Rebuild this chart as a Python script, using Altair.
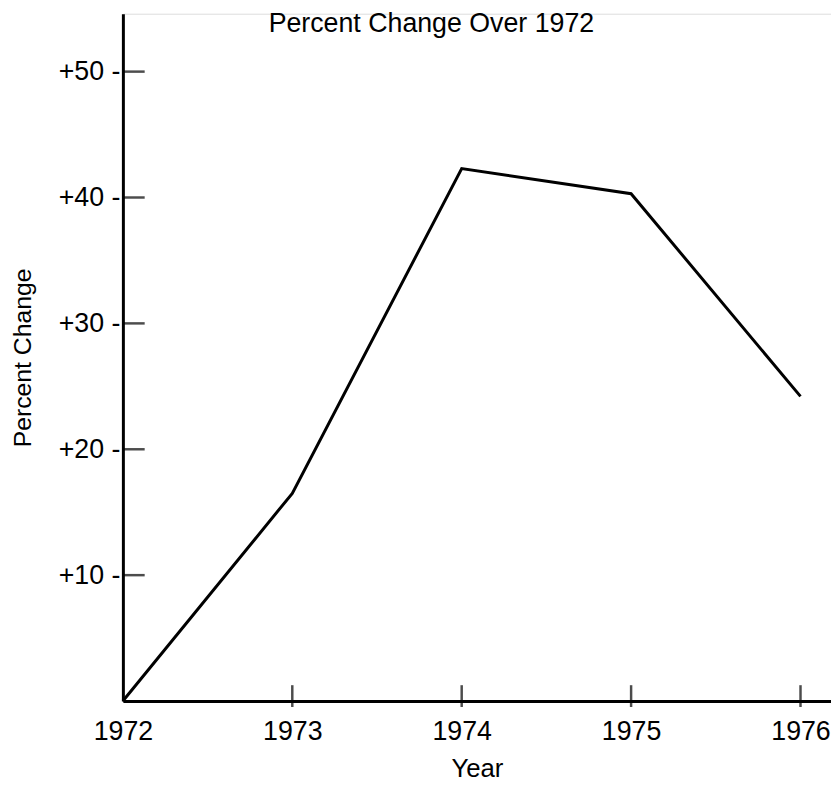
import altair as alt
import pandas as pd

years = [1972, 1973, 1974, 1975, 1976]
pct_change = [0, 16.5, 42.3, 40.3, 24.2]
y_tick_values = [10, 20, 30, 40, 50]
x_tick_years = [1973, 1974, 1975, 1976]

FONT = "Liberation Sans"

line_df = pd.DataFrame({"Year": years, "Change": pct_change})
xt_df = pd.DataFrame({"Year": x_tick_years, "Change": [0] * len(x_tick_years)})
yt_df = pd.DataFrame({"Year": [years[0]] * len(y_tick_values), "Change": y_tick_values})

x_scale = alt.Scale(domain=[1972, 1976.18], nice=False, zero=False)
y_scale = alt.Scale(domain=[0, 54.6], nice=False)

x_axis = alt.Axis(
    values=years, format="d", ticks=False, grid=False, labelFlush=False,
    domainColor="black", domainWidth=3,
    labelFont=FONT, labelFontSize=27, labelColor="black", labelPadding=18,
    title="Year", titleFont=FONT, titleFontSize=26, titleFontWeight="normal",
    titleColor="black", titlePadding=11,
)
y_axis = alt.Axis(
    values=y_tick_values, labelExpr="'+' + datum.value + ' -'", ticks=False, grid=False,
    labelFlush=False,
    domainColor="black", domainWidth=3,
    labelFont=FONT, labelFontSize=27, labelColor="black", labelPadding=3,
    title="Percent Change", titleFont=FONT, titleFontSize=25, titleFontWeight="normal",
    titleColor="black", titlePadding=23,
)

line = alt.Chart(line_df).mark_line(color="black", strokeWidth=3).encode(
    x=alt.X("Year:Q", scale=x_scale, axis=x_axis),
    y=alt.Y("Change:Q", scale=y_scale, axis=y_axis),
)

xticks = alt.Chart(xt_df).mark_tick(
    orient="vertical", size=22, thickness=2.5, color="black", yOffset=-5
).encode(
    x=alt.X("Year:Q", scale=x_scale),
    y=alt.Y("Change:Q", scale=y_scale),
)

yticks = alt.Chart(yt_df).mark_tick(
    orient="horizontal", size=22, thickness=2.5, color="black", xOffset=11
).encode(
    x=alt.X("Year:Q", scale=x_scale),
    y=alt.Y("Change:Q", scale=y_scale),
)

chart = (
    alt.layer(line, xticks, yticks)
    .properties(
        width=715,
        height=694,
        autosize=alt.AutoSizeParams(type="none"),
        padding={"left": 116, "top": 2, "right": 0, "bottom": 80},
        title=alt.TitleParams(
            "Percent Change Over 1972", font=FONT, fontSize=27, fontWeight="normal",
            color="black", anchor="middle", frame="group", dx=-46, dy=45,
            offset=0, baseline="alphabetic",
        ),
    )
    .configure_view(stroke=None)
    .configure(background="white")
)

chart.save("out.html", embed_options={"renderer": "svg", "actions": False})
